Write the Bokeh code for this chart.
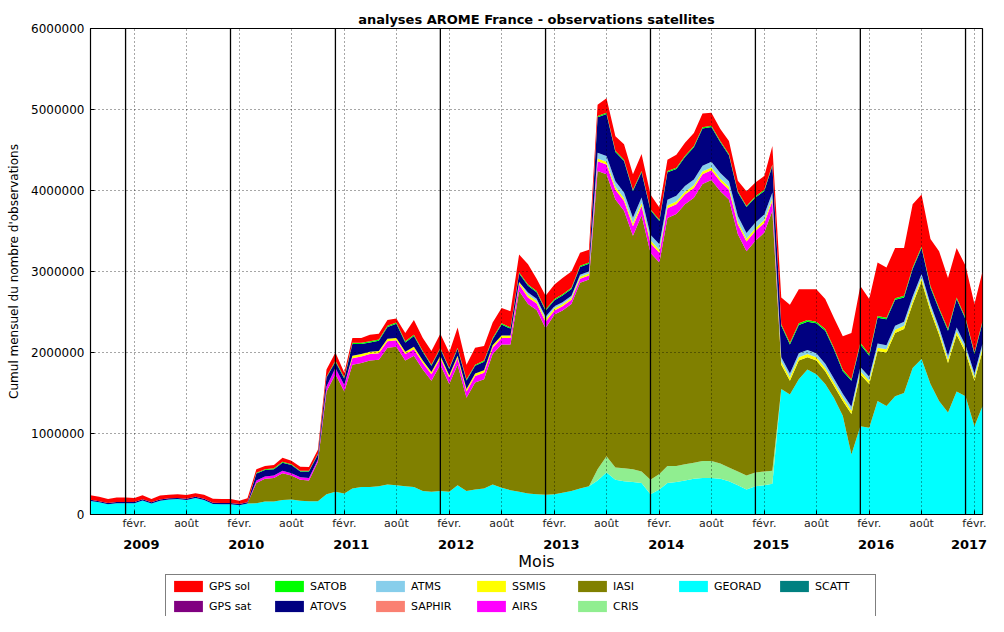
import datetime as dt
from bokeh.plotting import figure
from bokeh.layouts import column
from bokeh.models import (ColumnDataSource, LinearAxis, FixedTicker, Span, Legend, LegendItem,
                          NumeralTickFormatter, Range1d)
from bokeh.embed import file_html
from bokeh.resources import INLINE

# ---------------- data (thousands of observations per month, Sep 2008 .. Mar 2017) -------------
N = 103
months = [(2008 + (8 + i) // 12, (8 + i) % 12 + 1) for i in range(N)]

GEORAD = [167, 150, 127, 140, 140, 140, 172, 135, 170, 185, 190, 180, 205, 180, 130, 128, 128, 115, 135,
          140, 160, 160, 180, 185, 170, 165, 165, 250,
          280, 260, 320, 340, 340, 350, 370, 360, 350, 340, 290, 280, 290, 280, 360, 290, 310, 320, 370, 330,
          300, 280, 260, 250, 245,
          250, 270, 290, 320, 350,
          420, 520, 430, 410, 400, 390, 250, 310, 390, 400, 420, 440, 450, 450, 440, 410, 360, 310, 350, 360, 380,
          1550, 1480, 1670, 1790, 1730, 1610, 1440, 1220, 740, 1090, 1070, 1400, 1340, 1460, 1500, 1810, 1920,
          1610, 1400, 1260, 1520, 1460, 1090, 1340]
CRIS = [0] * 58 + [140, 200, 150, 160, 160, 140, 180, 190, 210, 200, 200, 200, 210, 210, 190, 170, 170, 170,
                   170, 170, 160] + [0] * 24
IASI = [0] * 19 + [250, 280, 290, 330, 295, 260, 255, 485, 1270,
                   1450, 1260, 1530, 1530, 1560, 1560, 1690, 1710, 1550, 1620, 1500, 1370, 1560, 1330, 1490, 1150,
                   1320, 1350, 1610, 1770, 1800, 2480, 2340, 2275, 2055,
                   2220, 2250, 2310, 2540, 2550,
                   3680, 3480, 3310, 3180, 2880, 3160, 2800, 2610, 3060, 3110, 3210, 3270, 3420, 3470, 3360, 3310,
                   2930, 2770, 2860, 2950, 3210,
                   300, 170, 230, 150, 170, 160, 150, 180, 500, 640, 540, 620, 660, 780, 790, 790, 960, 900, 820,
                   610, 700, 540, 560, 680]
AIRS = [0] * 19 + [30] * 8 + [60] + [80] * 25 + [50] * 5 + [120] * 21 + [0] * 24
SSMIS = [0] * 30 + [30] * 23 + [25] * 5 + [35] * 21 + [40] * 24
SAPHIR = [0] * N
ATMS = [0] * 50 + [30] * 3 + [25] * 5 + [70] * 21 + [50] * 24
ATOVS = [15] * 19 + [86, 80, 80, 100, 100, 70, 80, 60, 110,
                     75, 75, 145, 125, 115, 125, 145, 175, 115, 135, 105, 75, 85, 75, 85, 105, 95, 105, 75, 135,
                     85, 105, 85, 80, 75,
                     75, 85, 85, 95, 95,
                     440, 520, 360, 390, 330, 310, 300, 290, 340, 330, 360, 400, 460, 430, 380, 320, 290, 320, 310,
                     290, 330,
                     390, 360, 350, 350, 370, 410, 360, 280, 320, 280, 260, 320, 320, 320, 300, 340, 320, 200, 220,
                     310, 350, 320, 240, 260]
SATOB = [0] * 19 + [10] * 9 + [15] * 51 + [20] * 24
GPS_SAT = [0] * N
GPS_SOL = [55, 55, 48, 55, 55, 50, 50, 40, 50, 45, 45, 45, 42, 50, 50, 47, 47, 40, 50,
           42, 40, 40, 50, 45, 50, 45, 50, 90,
           100, 60, 60, 60, 80, 70, 70, 50, 100, 180, 160, 170, 170, 190, 250, 180, 210, 180, 190, 190, 200,
           220, 250, 150, 170,
           180, 200, 200, 160, 160,
           140, 180, 180, 190, 190, 210, 180, 150, 140, 160, 160, 160, 170, 160, 150, 160, 130, 180, 170, 170, 230,
           330, 470, 420, 380, 400, 370, 370, 410, 570, 700, 680, 660, 620, 620, 590, 780, 640, 580, 700, 630,
           610, 640, 600, 610]
SCATT = [0] * N

# stacking order bottom -> top
stack_names = ["SCATT", "GEORAD", "CRIS", "IASI", "AIRS", "SSMIS", "SAPHIR", "ATMS", "ATOVS", "SATOB",
               "GPS sat", "GPS sol"]
stack_series = [SCATT, GEORAD, CRIS, IASI, AIRS, SSMIS, SAPHIR, ATMS, ATOVS, SATOB, GPS_SAT, GPS_SOL]
colors = {"GPS sol": "#ff0000", "GPS sat": "#800080", "SATOB": "#00ff00", "ATOVS": "#000080",
          "ATMS": "#87ceeb", "SAPHIR": "#fa8072", "SSMIS": "#ffff00", "AIRS": "#ff00ff",
          "IASI": "#808000", "CRIS": "#90ee90", "GEORAD": "#00ffff", "SCATT": "#008080"}
# legend, row by row
legend_order = ["GPS sol", "SATOB", "ATMS", "SSMIS", "IASI", "GEORAD", "SCATT",
                "GPS sat", "ATOVS", "SAPHIR", "AIRS", "CRIS"]

years = list(range(2009, 2018))
month_tick_names = {2: "févr.", 8: "août"}


def ms(y, m, d=1):
    return int((dt.datetime(y, m, d) - dt.datetime(1970, 1, 1)).total_seconds() * 1000)


DAY = 86400000
x = [ms(y, m) for (y, m) in months]
data = {"x": x}
for name, s in zip(stack_names, stack_series):
    data[name] = [v * 1000 for v in s]
source = ColumnDataSource(data)

FONT = "DejaVu Sans"

p = figure(width=988, height=573, output_backend="svg", toolbar_location=None,
           x_range=Range1d(x[0], x[-1]), y_range=Range1d(0, 6000000),
           min_border_left=90, min_border_right=6, min_border_top=28, min_border_bottom=59,
           background_fill_color="white", border_fill_color="white")
p.outline_line_color = "black"
p.outline_line_width = 1.2

renderers = p.varea_stack(stackers=stack_names, x="x", color=[colors[n] for n in stack_names], source=source)

# year separators
for yv in years:
    p.add_layout(Span(location=ms(yv, 1), dimension="height", line_color="black", line_width=1.3))

# title
p.title.text = "analyses AROME France - observations satellites"
p.title.align = "center"
p.title.text_font = FONT
p.title.text_font_size = "13px"
p.title.text_font_style = "bold"
p.title.text_color = "black"
p.title.standoff = 4

# y axis
yax = p.yaxis[0]
yax.ticker = FixedTicker(ticks=[0, 1000000, 2000000, 3000000, 4000000, 5000000, 6000000])
yax.formatter = NumeralTickFormatter(format="0")
yax.axis_label = "Cumul mensuel du nombre d'observations"
yax.axis_label_text_font = FONT
yax.axis_label_text_font_size = "12px"
yax.axis_label_text_font_style = "normal"
yax.axis_label_text_color = "black"
yax.axis_label_standoff = 7
yax.major_label_text_font = FONT
yax.major_label_text_font_size = "12px"
yax.major_label_text_color = "black"
yax.major_label_standoff = 6
yax.major_tick_in = 4
yax.major_tick_out = 0
yax.minor_tick_line_color = None
yax.axis_line_color = "black"

# month axis
month_ticks = []
month_labels = {}
for yv in years:
    for mv, lab in month_tick_names.items():
        t = ms(yv, mv)
        month_ticks.append(t)
        month_labels[t] = lab
xax = p.xaxis[0]
xax.ticker = FixedTicker(ticks=month_ticks)
xax.major_label_overrides = month_labels
xax.major_label_text_font = FONT
xax.major_label_text_font_size = "11px"
xax.major_label_text_color = "#222222"
xax.major_label_standoff = 2
xax.major_tick_in = 4
xax.major_tick_out = 0
xax.minor_tick_line_color = None
xax.axis_line_color = "black"

# year axis
x_end = x[-1]
year_pos = {}
for yv in years:
    t = min(ms(yv, 1) + 55 * DAY, x_end - 47 * DAY)
    year_pos[t] = str(yv)
yr_axis = LinearAxis(ticker=FixedTicker(ticks=list(year_pos.keys())), major_label_overrides=year_pos,
                     axis_line_color=None, major_tick_line_color=None, minor_tick_line_color=None,
                     major_label_text_font=FONT, major_label_text_font_size="13px",
                     major_label_text_font_style="bold", major_label_text_color="black",
                     major_label_standoff=1,
                     axis_label="Mois", axis_label_text_font=FONT, axis_label_text_font_size="16px",
                     axis_label_text_font_style="normal", axis_label_text_color="black",
                     axis_label_standoff=0)
p.add_layout(yr_axis, "below")

# grids
p.xgrid.ticker = FixedTicker(ticks=month_ticks)
p.ygrid.ticker = FixedTicker(ticks=[1000000, 2000000, 3000000, 4000000, 5000000])
for g in (p.xgrid[0], p.ygrid[0]):
    g.grid_line_color = "black"
    g.grid_line_alpha = 0.7
    g.grid_line_dash = "1 3"
    g.grid_line_width = 1
    g.level = "annotation"

# ---------------- legend strip under the chart ----------------
# same stacked series, drawn outside this strip's visible range: only their legend keys show
lf = figure(width=988, height=43, output_backend="svg", toolbar_location=None, title=None,
            x_axis_location=None, y_axis_location=None, min_border=0,
            x_range=Range1d(0, 1), y_range=Range1d(0, 1),
            background_fill_color="white", border_fill_color="white")
lf.outline_line_color = None
lf.xgrid.visible = False
lf.ygrid.visible = False
key_list = lf.varea_stack(stackers=stack_names, x="x", color=[colors[n] for n in stack_names], source=source)
key_renderers = dict(zip(stack_names, key_list))

items = [LegendItem(label=n, renderers=[key_renderers[n]]) for n in legend_order]
legend = Legend(items=items, ncols=7, orientation="horizontal", location=(75, -2),
                label_text_font=FONT, label_text_font_size="11px", label_text_color="black",
                glyph_width=36, glyph_height=14, label_height=14, label_width=56, label_standoff=3,
                spacing=6, padding=4, margin=0,
                border_line_color="black", border_line_width=1, background_fill_color="white",
                background_fill_alpha=1.0)
lf.add_layout(legend)

layout = column(p, lf, spacing=0)
open("out.html", "w").write(file_html(layout, INLINE))
